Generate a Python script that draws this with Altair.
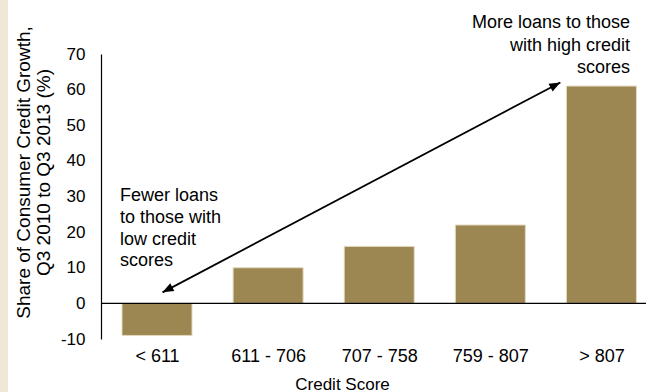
import altair as alt
import pandas as pd

categories = ["< 611", "611 - 706", "707 - 758", "759 - 807", "> 807"]
shares = [-9, 10, 16, 22, 61]
y_ticks = [-10, 0, 10, 20, 30, 40, 50, 60, 70]

note_high = ["More loans to those", "with high credit", "scores"]
note_low = ["Fewer loans", "to those with", "low credit", "scores"]

# annotation anchors (data space: x = category index, y = percent)
arrow_x = [0.05, 3.63]
arrow_y = [3.1, 62.0]

FONT = "Liberation Sans"
BAR = "#9c8753"

bars_df = pd.DataFrame({"idx": list(range(len(categories))), "cat": categories, "share": shares})
arrow_df = pd.DataFrame({"x": [arrow_x[0]], "x2": [arrow_x[1]], "y": [arrow_y[0]], "y2": [arrow_y[1]]})
heads_df = pd.DataFrame({"x": arrow_x, "y": arrow_y, "ang": [242.2, 62.2]})
notes_df = pd.DataFrame({
    "x": [4.257, -0.333],
    "y": [78.7, 30.1],
    "t": ["\n".join(note_high), "\n".join(note_low)],
})

xs = alt.Scale(domain=[-0.504, 4.401], nice=False, zero=False)
ys = alt.Scale(domain=[-10, 70], nice=False, zero=False)

label_expr = "[" + ",".join("'%s'" % c for c in categories) + "][datum.value]"

y_axis = alt.Axis(
    values=y_ticks, grid=False, ticks=False, labelExpr="'' + datum.value",
    labelOverlap=False, labelBound=False, labelFlush=False, labelSeparation=0,
    domainColor="black", domainWidth=1.2, labelFont=FONT, labelFontSize=17,
    labelColor="black", labelPadding=16, labelLineHeight=17,
    title=["Share of Consumer Credit Growth,", "Q3 2010 to Q3 2013 (%)"],
    titleFont=FONT, titleFontSize=19, titleFontWeight="normal", titleColor="black",
    titleAngle=270, titleX=-72, titleY=118, titleAlign="center",
    titleBaseline="alphabetic", titleLineHeight=20, titleAnchor="start")

x_axis = alt.Axis(
    values=[0, 1, 2, 3, 4], labelExpr=label_expr, title="Credit Score",
    domain=False, ticks=False, grid=False, labelFont=FONT, labelFontSize=18,
    labelColor="black", labelPadding=8, labelOverlap=False, labelFlush=False,
    titleFont=FONT, titleFontSize=17,
    titleFontWeight="normal", titleColor="black", titleX=241, titleY=50,
    titleBaseline="alphabetic", titleAnchor="start", titleAlign="center")

bars = alt.Chart(bars_df).transform_calculate(
    x0="datum.idx - 0.315", x1="datum.idx + 0.315"
).mark_bar(color=BAR, stroke="#e3d9be", strokeWidth=1).encode(
    x=alt.X("x0:Q", scale=xs, axis=x_axis),
    x2="x1:Q",
    y=alt.Y("share:Q", scale=ys, axis=y_axis),
    y2=alt.datum(0),
)

zero = alt.Chart(pd.DataFrame({"z": [0]})).mark_rule(color="black", strokeWidth=1.2).encode(
    y=alt.Y("z:Q", scale=ys, axis=y_axis)
)

arrow = alt.Chart(arrow_df).mark_rule(color="black", strokeWidth=1.8).encode(
    x=alt.X("x:Q", scale=xs, axis=x_axis), x2="x2:Q",
    y=alt.Y("y:Q", scale=ys, axis=y_axis), y2="y2:Q"
)

heads = alt.Chart(heads_df).mark_point(
    shape="M0,0L-0.8,2L0.8,2Z", filled=True, color="black", size=121, opacity=1
).encode(
    x=alt.X("x:Q", scale=xs, axis=x_axis), y=alt.Y("y:Q", scale=ys, axis=y_axis),
    angle=alt.Angle("ang:Q", scale=None)
)

notes_r = alt.Chart(notes_df.iloc[[0]]).mark_text(
    align="right", baseline="middle", font=FONT, fontSize=18, lineHeight=22.5,
    lineBreak="\n", color="black"
).encode(x=alt.X("x:Q", scale=xs, axis=x_axis), y=alt.Y("y:Q", scale=ys, axis=y_axis), text="t:N")

notes_l = alt.Chart(notes_df.iloc[[1]]).mark_text(
    align="left", baseline="middle", font=FONT, fontSize=18, lineHeight=21.7,
    lineBreak="\n", color="black"
).encode(x=alt.X("x:Q", scale=xs, axis=x_axis), y=alt.Y("y:Q", scale=ys, axis=y_axis), text="t:N")

strip = alt.Chart(pd.DataFrame({"a": [0]})).mark_rect(color="#f0e7d7").encode(
    x=alt.value(-101), x2=alt.value(-93), y=alt.value(-54), y2=alt.value(338)
)

chart = alt.layer(strip, bars, zero, arrow, heads, notes_r, notes_l).properties(
    width=545, height=285,
    autosize=alt.AutoSizeParams(type="none"),
    padding={"left": 101, "top": 54, "right": 0, "bottom": 53},
    background="white",
).configure_view(stroke=None)

chart.save("out.html", embed_options={"renderer": "svg", "actions": False})
